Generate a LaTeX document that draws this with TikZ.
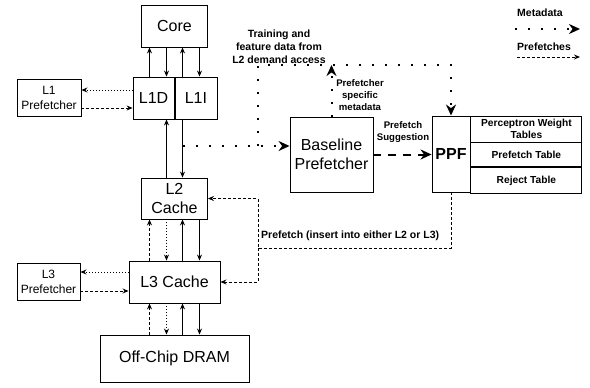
\documentclass[tikz,border=0pt]{standalone}
\usepackage{fontspec}
\setmainfont{Liberation Sans}
\usetikzlibrary{positioning, arrows.meta, calc}

\begin{document}
\begin{tikzpicture}[
x=1pt, y=-1pt,
    block/.style={draw, rectangle, line width=0.9pt, inner sep=0pt, align=center, font=\fontsize{16}{19}\selectfont},
    pfblock/.style={block, minimum width=64pt, minimum height=37pt, font=\fontsize{12}{15}\selectfont},
    tablerow/.style={draw, rectangle, line width=0.9pt, inner sep=0pt, minimum width=111pt, align=center, font=\bfseries\fontsize{10.2}{12.5}\selectfont},
    note/.style={align=center, inner sep=0pt, font=\bfseries\fontsize{10.5}{13}\selectfont},
    smallnote/.style={note, font=\bfseries\fontsize{9.6}{12}\selectfont},
    link/.style={line width=0.9pt, -{Stealth[length=6pt,width=5pt]}},
    pfdash/.style={link, dash pattern=on 3pt off 2pt},
    pfdot/.style={link, dash pattern=on 1pt off 2pt},
    meta/.style={line width=2pt, dash pattern=on 2pt off 11pt, -{Stealth[length=11pt,width=10pt]}},
    suggest/.style={line width=2pt, dash pattern=on 8pt off 7pt, -{Stealth[length=11pt,width=10pt]}}
]
    \useasboundingbox (0,0) rectangle (590,388);

    % --- Memory hierarchy ---
    \node[block, minimum width=66pt, minimum height=42pt] (core) at (174.5,26) {Core};
    \node[block, minimum width=41pt, minimum height=42pt, anchor=east] (l1d) at (174.5,98) {L1D};
    \node[block, minimum width=42pt, minimum height=42pt, right=0pt of l1d] (l1i) {L1I};
    \node[block, minimum width=66pt, minimum height=41pt] (l2) at (174.5,198.5) {L2\\Cache};
    \node[block, minimum width=91pt, minimum height=42pt] (l3) at (174.5,282) {L3 Cache};
    \node[block, minimum width=149pt, minimum height=47pt] (dram) at (174.5,358.5) {Off-Chip DRAM};

    % --- Per-level prefetchers ---
    \node[pfblock] (l1pf) at (49,98) {L1\\Prefetcher};
    \node[pfblock, minimum width=63pt] (l3pf) at (48.5,282) {L3\\Prefetcher};

    % --- Baseline prefetcher and PPF ---
    \node[block, minimum width=83pt, minimum height=75pt] (base) at (331.5,154.5) {Baseline\\Prefetcher};
    \node[block, minimum width=38pt, minimum height=76pt, font=\bfseries\fontsize{16}{19}\selectfont] (ppf) at (451,154) {PPF};
    \node[tablerow, minimum height=26pt, anchor=north west] (pwt) at (ppf.north east) {Perceptron Weight\\Tables};
    \node[tablerow, minimum height=24pt, below=0pt of pwt] (pft) {Prefetch Table};
    \node[tablerow, minimum height=26pt, below=0pt of pft] (rjt) {Reject Table};

    % Core <-> L1
    \draw[link] ([xshift=-25pt]l1d.north east) -- ([xshift=-25pt]core.south);
    \draw[link] ([xshift=-8pt]core.south) -- ([xshift=-8pt]l1d.north east);
    \draw[link] ([xshift=8pt]l1d.north east) -- ([xshift=8pt]core.south);
    \draw[link] ([xshift=25pt]core.south) -- ([xshift=25pt]l1d.north east);

    % L1 <-> L2
    \draw[link] ([xshift=-8pt]l2.north) -- ([xshift=-8pt]l1d.south east);
    \draw[link] ([xshift=8pt]l1d.south east) -- ([xshift=8pt]l2.north);

    % L2 <-> L3
    \draw[pfdash] ([xshift=-25pt]l3.north) -- ([xshift=-25pt]l2.south);
    \draw[pfdot] ([xshift=-8pt]l2.south) -- ([xshift=-8pt]l3.north);
    \draw[link] ([xshift=8pt]l3.north) -- ([xshift=8pt]l2.south);
    \draw[link] ([xshift=25pt]l2.south) -- ([xshift=25pt]l3.north);

    % L3 <-> DRAM
    \draw[pfdash] ([xshift=-25pt]dram.north) -- ([xshift=-25pt]l3.south);
    \draw[pfdot] ([xshift=-8pt]l3.south) -- ([xshift=-8pt]dram.north);
    \draw[link] ([xshift=8pt]dram.north) -- ([xshift=8pt]l3.south);
    \draw[link] ([xshift=25pt]l3.south) -- ([xshift=25pt]dram.north);

    % Prefetcher traffic
    \draw[pfdot] ([yshift=8pt]l1d.west) -- ([yshift=8pt]l1pf.east);
    \draw[pfdash] ([yshift=-10pt]l1pf.east) -- ([yshift=-10pt]l1d.west);
    \draw[pfdot] ([yshift=10pt]l3.west) -- ([yshift=10pt]l3pf.east);
    \draw[pfdash] ([yshift=-9pt]l3pf.east) -- ([yshift=-9pt]l3.west);

    % --- Metadata paths ---
    \coordinate (tap) at (182.5,146);
    \coordinate (mtop) at (258,65);
    \draw[meta] (tap) -- (tap -| base.west);
    \draw[meta] (tap -| mtop) -- (mtop) -| (ppf.north);
    \draw[meta] (base.north) -- (base.north |- mtop);
    \node[note] (train) at (279,47) {Training and\\feature data from\\L2 demand access};
    \node[smallnote] (pfmeta) at (360,95) {Prefetcher\\specific\\metadata};

    % --- Suggestion and prefetch insert ---
    \draw[suggest] (base.east) -- (base.east -| ppf.west);
    \node[smallnote] (sugg) at (403,132) {Prefetch\\Suggestion};
    \coordinate (pfbend) at (258,248);
    \draw[pfdash] (ppf.south) |- (pfbend) |- (l2.east);
    \draw[pfdash] (pfbend) |- (l3.east);
    \node[note, anchor=west] (pfnote) at (261,236) {Prefetch (insert into either L2 or L3)};

    % --- Legend ---
    \node[note] (lgmeta) at (540,13) {Metadata};
    \node[note] (lgpf) at (544,47) {Prefetches};
    \coordinate (lm1) at (515,29);
    \coordinate (lm2) at (580,29);
    \coordinate (lp1) at (517,57);
    \coordinate (lp2) at (580,57);
    \draw[meta] (lm1) -- (lm2);
    \draw[pfdash] (lp1) -- (lp2);

\end{tikzpicture}
\end{document}
